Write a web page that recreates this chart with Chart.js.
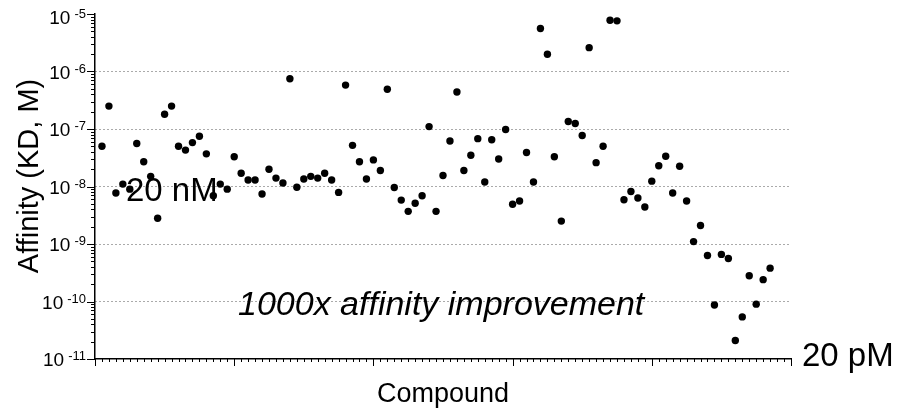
<!DOCTYPE html>
<html>
<head>
<meta charset="utf-8">
<script src="https://cdn.jsdelivr.net/npm/chart.js@4.4.0/dist/chart.umd.min.js"></script>
<style>
  html, body { margin: 0; padding: 0; background: #fff; }
</style>
</head>
<body>
<canvas id="kdChart" width="901" height="412"></canvas>
<script>
// compound number along the x axis
const compounds = [
    1, 2, 3, 4, 5, 6, 7, 8, 9, 10, 11, 12, 13, 14, 15, 16, 17, 18, 19, 20,
    21, 22, 23, 24, 25, 26, 27, 28, 29, 30, 31, 32, 33, 34, 35, 36, 37, 38, 39, 40,
    41, 42, 43, 44, 45, 46, 47, 48, 49, 50, 51, 52, 53, 54, 55, 56, 57, 58, 59, 60,
    61, 62, 63, 64, 65, 66, 67, 68, 69, 70, 71, 72, 73, 74, 75, 76, 77, 78, 79, 80,
    81, 82, 83, 84, 85, 86, 87, 88, 89, 90, 91, 92, 93, 94, 95, 96, 97
];

// KD in M
const kdValues = [
    5.0e-8, 2.5e-7, 7.7e-9, 1.1e-8, 9.0e-9, 5.6e-8, 2.7e-8, 1.5e-8, 2.8e-9, 1.8e-7,
    2.5e-7, 5.0e-8, 4.3e-8, 5.8e-8, 7.5e-8, 3.7e-8, 6.9e-9, 1.1e-8, 9.0e-9, 3.3e-8,
    1.7e-8, 1.3e-8, 1.3e-8, 7.4e-9, 2.0e-8, 1.4e-8, 1.15e-8, 7.5e-7, 9.7e-9, 1.35e-8,
    1.5e-8, 1.4e-8, 1.7e-8, 1.3e-8, 7.9e-9, 5.8e-7, 5.2e-8, 2.7e-8, 1.35e-8, 2.9e-8,
    1.9e-8, 4.9e-7, 9.6e-9, 5.8e-9, 3.7e-9, 5.1e-9, 6.9e-9, 1.1e-7, 3.7e-9, 1.55e-8,
    6.2e-8, 4.4e-7, 1.9e-8, 3.5e-8, 6.8e-8, 1.2e-8, 6.5e-8, 3.0e-8, 9.8e-8, 4.9e-9,
    5.6e-9, 3.9e-8, 1.2e-8, 5.6e-6, 2.0e-6, 3.3e-8, 2.5e-9, 1.35e-7, 1.25e-7, 7.7e-8,
    2.6e-6, 2.6e-8, 5.0e-8, 7.8e-6, 7.6e-6, 5.9e-9, 8.2e-9, 6.3e-9, 4.4e-9, 1.24e-8,
    2.3e-8, 3.35e-8, 7.7e-9, 2.25e-8, 5.6e-9, 1.1e-9, 2.1e-9, 6.3e-10, 8.7e-11, 6.6e-10,
    5.6e-10, 2.1e-11, 5.4e-11, 2.8e-10, 9.0e-11, 2.4e-10, 3.8e-10
];

// decade exponents shown on the y axis, major ticks on the x axis
const yTickExponents = [-11, -10, -9, -8, -7, -6, -5];
const xMajorTicks = [0, 20, 40, 60, 80, 100];

const yAxisTitle = 'Affinity (KD, M)';
const xAxisTitle = 'Compound';
const noteTop = '20 nM';
const noteMiddle = '1000x affinity improvement';
const noteBottom = '20 pM';

const FONT = "'Liberation Sans', Arial, Helvetica, sans-serif";

function isDecade(v) {
    const l = Math.log10(v);
    return Math.abs(l - Math.round(l)) < 1e-6;
}

function line(ctx, x1, y1, x2, y2) {
    ctx.beginPath();
    ctx.moveTo(x1, y1);
    ctx.lineTo(x2, y2);
    ctx.stroke();
}

const axisDecor = {
    id: 'axisDecor',
    afterDraw(chart) {
        const ctx = chart.ctx;
        const a = chart.chartArea;
        const x = chart.scales.x;
        const y = chart.scales.y;
        ctx.save();
        ctx.strokeStyle = '#000';
        ctx.lineWidth = 1;

        // y axis: decade ticks and 2..9 minor ticks
        yTickExponents.forEach((e, i) => {
            const py = Math.round(y.getPixelForValue(Math.pow(10, e))) + 0.5;
            line(ctx, a.left - 8, py, a.left, py);
            if (i < yTickExponents.length - 1) {
                for (let m = 2; m <= 9; m++) {
                    const pm = Math.round(y.getPixelForValue(m * Math.pow(10, e))) + 0.5;
                    line(ctx, a.left - 4, pm, a.left, pm);
                }
            }
        });

        // x axis: a tick for every compound, longer ones every 20
        for (let v = x.min; v <= x.max; v++) {
            const px = Math.round(x.getPixelForValue(v)) + 0.5;
            const len = xMajorTicks.includes(v) ? 7 : 3;
            line(ctx, px, a.bottom, px, a.bottom + len);
        }

        // y tick labels, 10 with a raised exponent
        ctx.fillStyle = '#000';
        ctx.textBaseline = 'alphabetic';
        ctx.textAlign = 'right';
        yTickExponents.forEach(e => {
            const py = y.getPixelForValue(Math.pow(10, e));
            const base = Math.max(py + 7, 24);
            const expText = String(e);
            ctx.font = '13px ' + FONT;
            ctx.fillText(expText, 86, base - 6);
            const w = ctx.measureText(expText).width;
            ctx.font = '19px ' + FONT;
            ctx.fillText('10', 86 - w - 4, base);
        });

        // axis titles
        ctx.textAlign = 'center';
        ctx.textBaseline = 'middle';
        ctx.font = '27px ' + FONT;
        ctx.fillText(xAxisTitle, (a.left + a.right) / 2, 395);
        ctx.save();
        ctx.translate(30, 176);
        ctx.rotate(-Math.PI / 2);
        ctx.font = '29px ' + FONT;
        ctx.fillText(yAxisTitle, 0, 0);
        ctx.restore();

        // notes
        ctx.textAlign = 'left';
        ctx.textBaseline = 'alphabetic';
        ctx.font = '33px ' + FONT;
        ctx.fillText(noteTop, 126, 201);
        ctx.fillText(noteBottom, 802, 366);
        ctx.font = 'italic 34px ' + FONT;
        ctx.fillText(noteMiddle, 238, 315);

        ctx.restore();
    }
};

const canvas = document.getElementById('kdChart').getContext('2d');
const kdChart = new Chart(canvas, {
    type: 'scatter',
    data: {
        datasets: [{
            label: 'KD',
            data: compounds.map((c, i) => ({ x: c, y: kdValues[i] })),
            backgroundColor: '#000',
            borderColor: '#000',
            borderWidth: 0,
            pointRadius: 3.7,
            pointHoverRadius: 3.7
        }]
    },
    options: {
        responsive: false,
        animation: false,
        layout: {
            padding: { left: 95, top: 14, right: 110, bottom: 45 }
        },
        plugins: {
            legend: { display: false },
            tooltip: { enabled: false }
        },
        scales: {
            x: {
                type: 'linear',
                min: 0,
                max: 100,
                ticks: { display: false },
                grid: { display: false },
                border: { display: true, color: '#000', width: 1.5 }
            },
            y: {
                type: 'logarithmic',
                min: 1e-11,
                max: 1e-5,
                ticks: { display: false },
                grid: {
                    drawTicks: false,
                    lineWidth: 1,
                    color: (c) => {
                        const v = c.tick && c.tick.value;
                        if (!v || !isDecade(v) || v <= 1e-11 * 1.01 || v >= 1e-5 * 0.99) return 'rgba(0,0,0,0)';
                        return '#555';
                    }
                },
                border: { display: true, color: '#000', width: 1.5, dash: [1, 3] }
            }
        }
    },
    plugins: [axisDecor]
});
</script>
</body>
</html>
